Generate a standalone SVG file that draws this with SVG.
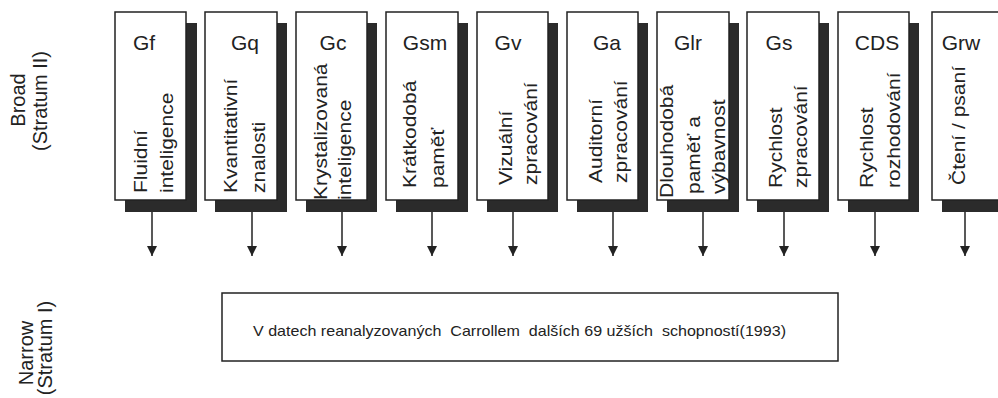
<svg xmlns="http://www.w3.org/2000/svg" width="998" height="398" viewBox="0 0 998 398">
<defs>
<style>
text{font-family:"Liberation Sans",Arial,sans-serif;fill:#222}
.box{fill:#fff;stroke:#222;stroke-width:1.5}
.sh{fill:#2b2b2b}
.lab{font-size:21px;text-anchor:middle}
.rt{font-size:21px}
.side{font-size:20px;text-anchor:middle}
.con{stroke:#222;stroke-width:1.5;fill:none}
</style>
<marker id="ah" viewBox="0 0 10 10" refX="10" refY="5" markerWidth="10" markerHeight="10" markerUnits="userSpaceOnUse" orient="auto"><path d="M0,0 L10,5 L0,10 Z" fill="#222"/></marker>
</defs>
<rect width="998" height="398" fill="#fff"/>

<g id="side-labels">
<text class="side" transform="translate(25,100) rotate(-90)">Broad</text>
<text class="side" transform="translate(47,101) rotate(-90)">(Stratum II)</text>
<text class="side" transform="translate(33,353) rotate(-90)">Narrow</text>
<text class="side" transform="translate(52,348) rotate(-90)">(Stratum I)</text>
</g>

<g id="Gf">
<rect class="sh" x="125" y="23" width="72" height="189"/>
<rect class="box" x="115" y="12" width="71" height="188"/>
<text class="lab" x="144" y="50">Gf</text>
<text class="rt" transform="translate(147,193) rotate(-90) scale(1,0.9)">Fluidní</text>
<text class="rt" transform="translate(173,193) rotate(-90) scale(1,0.9)">inteligence</text>
</g>

<g id="Gq">
<rect class="sh" x="215" y="23" width="72" height="189"/>
<rect class="box" x="205" y="12" width="72" height="188"/>
<text class="lab" x="245" y="50">Gq</text>
<text class="rt" transform="translate(237,193) rotate(-90) scale(1,0.9)">Kvantitativní</text>
<text class="rt" transform="translate(265,193) rotate(-90) scale(1,0.9)">znalosti</text>
</g>

<g id="Gc">
<rect class="sh" x="306" y="23" width="71" height="189"/>
<rect class="box" x="296" y="12" width="71" height="188"/>
<text class="lab" x="333" y="50">Gc</text>
<text class="rt" transform="translate(327,200) rotate(-90) scale(1,0.9)">Krystalizovaná</text>
<text class="rt" transform="translate(351,200) rotate(-90) scale(1,0.9)">inteligence</text>
</g>

<g id="Gsm">
<rect class="sh" x="396" y="23" width="72" height="189"/>
<rect class="box" x="386" y="12" width="72" height="188"/>
<text class="lab" x="425" y="50">Gsm</text>
<text class="rt" transform="translate(416,188) rotate(-90) scale(1,0.9)">Krátkodobá</text>
<text class="rt" transform="translate(444,188) rotate(-90) scale(1,0.9)">paměť</text>
</g>

<g id="Gv">
<rect class="sh" x="487" y="23" width="71" height="189"/>
<rect class="box" x="477" y="12" width="71" height="188"/>
<text class="lab" x="508" y="50">Gv</text>
<text class="rt" transform="translate(512,185) rotate(-90) scale(1,0.9)">Vizuální</text>
<text class="rt" transform="translate(537,185) rotate(-90) scale(1,0.9)">zpracování</text>
</g>

<g id="Ga">
<rect class="sh" x="577" y="23" width="71" height="189"/>
<rect class="box" x="567" y="12" width="71" height="188"/>
<text class="lab" x="607" y="50">Ga</text>
<text class="rt" transform="translate(602,183) rotate(-90) scale(1,0.9)">Auditorní</text>
<text class="rt" transform="translate(627,183) rotate(-90) scale(1,0.9)">zpracování</text>
</g>

<g id="Glr">
<rect class="sh" x="667" y="23" width="72" height="189"/>
<rect class="box" x="657" y="12" width="72" height="188"/>
<text class="lab" x="688" y="50">Glr</text>
<text class="rt" transform="translate(673,198) rotate(-90) scale(1,0.9)">Dlouhodobá</text>
<text class="rt" transform="translate(700,194) rotate(-90) scale(1,0.9)">paměť a</text>
<text class="rt" transform="translate(725,194) rotate(-90) scale(1,0.9)">výbavnost</text>
</g>

<g id="Gs">
<rect class="sh" x="757" y="23" width="72" height="189"/>
<rect class="box" x="747" y="12" width="72" height="188"/>
<text class="lab" x="779" y="50">Gs</text>
<text class="rt" transform="translate(782,188) rotate(-90) scale(1,0.9)">Rychlost</text>
<text class="rt" transform="translate(807,188) rotate(-90) scale(1,0.9)">zpracování</text>
</g>

<g id="CDS">
<rect class="sh" x="848" y="23" width="71" height="189"/>
<rect class="box" x="838" y="12" width="71" height="188"/>
<text class="lab" x="877" y="50">CDS</text>
<text class="rt" transform="translate(873,188) rotate(-90) scale(1,0.9)">Rychlost</text>
<text class="rt" transform="translate(900,188) rotate(-90) scale(1,0.9)">rozhodování</text>
</g>

<g id="Grw">
<rect class="sh" x="942" y="23" width="72" height="189"/>
<rect class="box" x="932" y="12" width="72" height="188"/>
<text class="lab" x="961" y="50">Grw</text>
<text class="rt" transform="translate(965,185) rotate(-90) scale(1,0.9)">Čtení / psaní</text>
</g>

<g id="Narrow">
<rect class="box" x="222" y="293" width="616" height="68"/>
<text x="253" y="336" font-size="15" textLength="533" lengthAdjust="spacingAndGlyphs" xml:space="preserve">V datech reanalyzovaných  Carrollem  dalších 69 užších  schopností(1993)</text>
</g>

<g id="connectors">
<line class="con" x1="152" y1="212" x2="152" y2="256" marker-end="url(#ah)"/>
<line class="con" x1="252" y1="212" x2="252" y2="256" marker-end="url(#ah)"/>
<line class="con" x1="342" y1="212" x2="342" y2="256" marker-end="url(#ah)"/>
<line class="con" x1="432" y1="212" x2="432" y2="256" marker-end="url(#ah)"/>
<line class="con" x1="513" y1="212" x2="513" y2="256" marker-end="url(#ah)"/>
<line class="con" x1="613" y1="212" x2="613" y2="256" marker-end="url(#ah)"/>
<line class="con" x1="703" y1="212" x2="703" y2="256" marker-end="url(#ah)"/>
<line class="con" x1="784" y1="212" x2="784" y2="256" marker-end="url(#ah)"/>
<line class="con" x1="875" y1="212" x2="875" y2="256" marker-end="url(#ah)"/>
<line class="con" x1="965" y1="212" x2="965" y2="256" marker-end="url(#ah)"/>
</g>
</svg>
